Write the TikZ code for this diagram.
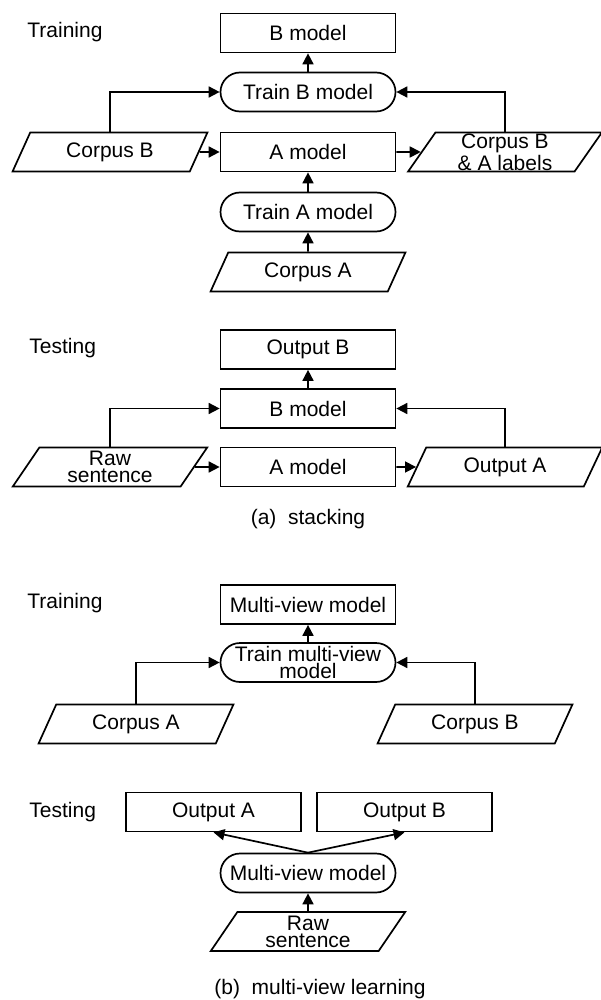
\documentclass[tikz,border=0pt]{standalone}
\usepackage{fontspec}
\setmainfont{Liberation Sans}
\usetikzlibrary{shapes.geometric, arrows.meta}

\begin{document}
\begin{tikzpicture}[
  x=0.5pt, y=-0.5pt,
  every node/.style={font=\fontsize{10.5}{8.4}\selectfont},
  model/.style={draw, line width=0.85pt, minimum width=87.5pt, minimum height=19.5pt, inner sep=0pt, align=center},
  proc/.style={model, rounded corners=9.75pt},
  data/.style={draw, line width=0.85pt, trapezium, trapezium left angle=63, trapezium right angle=117, trapezium stretches=true, minimum width=97.5pt, minimum height=19.5pt, inner sep=0pt, align=center},
  phase/.style={anchor=west, inner sep=0pt},
  arr/.style={line width=0.85pt, -{Triangle[length=5.5pt, width=5.5pt]}}
]
  \useasboundingbox (0,0) rectangle (600,1000);

  % (a) stacking, training
  \node[phase] (trainlbl) at (27,32) {Training};
  \node[model] (bmodel) at (308,33) {B model};
  \node[proc] (trainb) at (308,92) {Train B model};
  \node[data] (corpusb) at (110,152) {Corpus B};
  \node[model] (amodel) at (308,152) {A model};
  \node[data] (corpusbal) at (505,152) {Corpus B\\\& A labels};
  \node[proc] (traina) at (308,212) {Train A model};
  \node[data] (corpusa) at (308,272) {Corpus A};

  \draw[arr] (trainb) -- (bmodel);
  \draw[arr] (corpusb.north) |- (trainb.west);
  \draw[arr] (corpusb) -- (amodel);
  \draw[arr] (amodel) -- (corpusbal);
  \draw[arr] (corpusbal.north) |- (trainb.east);
  \draw[arr] (traina) -- (amodel);
  \draw[arr] (corpusa) -- (traina);

  % (a) stacking, testing
  \node[phase] (testlbl) at (29,348) {Testing};
  \node[model] (outb) at (308,349.5) {Output B};
  \node[model] (bmodeltest) at (308,408.5) {B model};
  \node[data] (raw) at (110,467) {Raw\\sentence};
  \node[model] (amodeltest) at (308,467) {A model};
  \node[data] (outa) at (505,467) {Output A};

  \draw[arr] (bmodeltest) -- (outb);
  \draw[arr] (raw.north) |- (bmodeltest.west);
  \draw[arr] (raw) -- (amodeltest);
  \draw[arr] (amodeltest) -- (outa);
  \draw[arr] (outa.north) |- (bmodeltest.east);

  \node (capa) at (308,519) {(a)\ \ stacking};

  % (b) multi-view learning, training
  \node[phase] (trainlblmv) at (27,603) {Training};
  \node[model] (mvmodel) at (308,604.5) {Multi-view model};
  \node[proc] (trainmv) at (308,662.5) {Train multi-view\\model};
  \node[data] (corpusamv) at (136,724) {Corpus A};
  \node[data] (corpusbmv) at (475,724) {Corpus B};

  \draw[arr] (trainmv) -- (mvmodel);
  \draw[arr] (corpusamv.north) |- (trainmv.west);
  \draw[arr] (corpusbmv.north) |- (trainmv.east);

  % (b) multi-view learning, testing
  \node[phase] (testlblmv) at (29,812.5) {Testing};
  \node[model] (outamv) at (213.5,812) {Output A};
  \node[model] (outbmv) at (404.5,812) {Output B};
  \node[proc] (mvtest) at (308,873) {Multi-view model};
  \node[data] (rawmv) at (308,931.5) {Raw\\sentence};

  \draw[arr] (mvtest.north) -- (outamv.south);
  \draw[arr] (mvtest.north) -- (outbmv.south);
  \draw[arr] (rawmv) -- (mvtest);

  \node (capb) at (320,989) {(b)\ \ multi-view learning};
\end{tikzpicture}
\end{document}
